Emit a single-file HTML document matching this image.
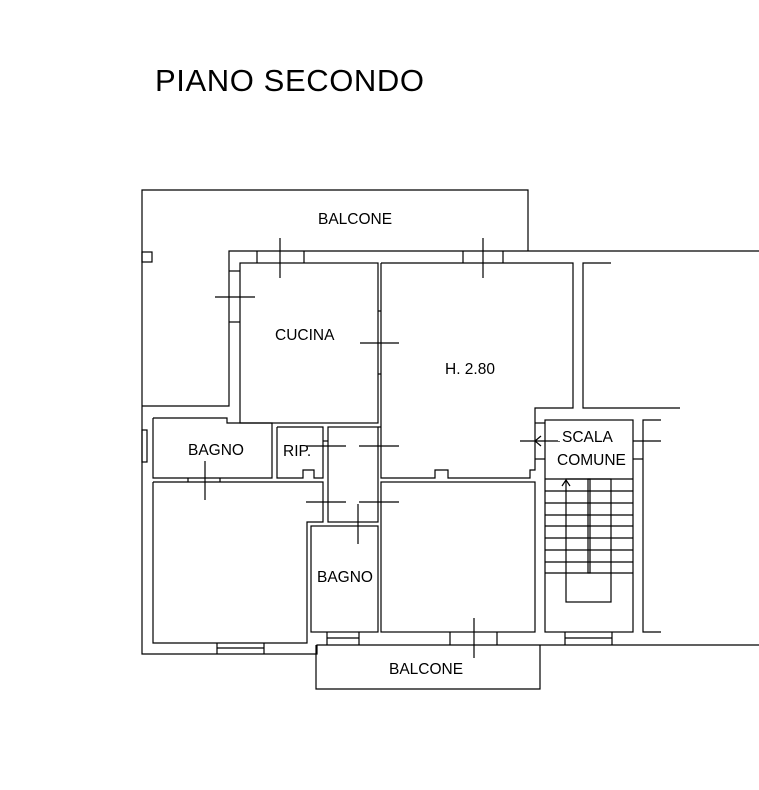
<!DOCTYPE html>
<html><head><meta charset="utf-8"><style>
html,body{margin:0;padding:0;background:#fff;width:759px;height:790px;overflow:hidden}
svg{display:block}
text{font-family:"Liberation Sans",sans-serif;fill:#000}
</style></head><body>
<svg width="759" height="790" viewBox="0 0 759 790" xmlns="http://www.w3.org/2000/svg">
<g stroke="#000" stroke-width="1.2" fill="none">
<polyline points="142,406 142,190 528,190 528,251"/>
<rect x="142" y="252" width="10" height="10"/>
<polyline points="759,251 229,251 229,406 142,406"/>
<line x1="229" y1="271" x2="240" y2="271"/><line x1="229" y1="322" x2="240" y2="322"/>
<line x1="215" y1="297" x2="255" y2="297"/>
<rect x="240" y="263" width="138" height="160"/>
<line x1="257" y1="251" x2="257" y2="263"/><line x1="304" y1="251" x2="304" y2="263"/>
<line x1="280" y1="238" x2="280" y2="278"/>
<line x1="378" y1="311" x2="381" y2="311"/><line x1="378" y1="374" x2="381" y2="374"/>
<line x1="360" y1="343" x2="399" y2="343"/>
<polyline points="381,263 573,263 573,408 535,408 535,470 530,470 530,478 448,478 448,470 435,470 435,478 381,478 381,263"/>
<line x1="463" y1="251" x2="463" y2="263"/><line x1="503" y1="251" x2="503" y2="263"/>
<line x1="483" y1="238" x2="483" y2="278"/>
<line x1="535" y1="423" x2="545" y2="423"/><line x1="535" y1="459" x2="545" y2="459"/>
<line x1="520" y1="441" x2="560" y2="441"/>
<polyline points="541,436 535,441 541,446"/>
<polyline points="611,263 583,263 583,408 680,408"/>
<polyline points="153,418 227,418 227,423 272,423 272,478 153,478 153,418"/>
<rect x="142" y="430" width="5" height="32"/>
<line x1="188" y1="478" x2="188" y2="482"/><line x1="220" y1="478" x2="220" y2="482"/>
<line x1="205" y1="461" x2="205" y2="500"/>
<polyline points="277,427 323,427 323,478 314,478 314,470 303,470 303,478 277,478 277,427"/>
<rect x="328" y="427" width="50" height="95"/>
<line x1="323" y1="441" x2="328" y2="441"/><line x1="378" y1="427" x2="381" y2="427"/>
<line x1="306" y1="446" x2="346" y2="446"/><line x1="359" y1="446" x2="399" y2="446"/>
<line x1="306" y1="502" x2="346" y2="502"/><line x1="359" y1="502" x2="399" y2="502"/>
<polyline points="153,482 323,482 323,522 307,522 307,643 153,643 153,482"/>
<rect x="311" y="526" width="67" height="106"/>
<line x1="358" y1="504" x2="358" y2="544"/>
<line x1="327" y1="632" x2="327" y2="645"/><line x1="359" y1="632" x2="359" y2="645"/><line x1="327" y1="638" x2="359" y2="638"/>
<rect x="381" y="482" width="154" height="150"/>
<line x1="450" y1="632" x2="450" y2="645"/><line x1="497" y1="632" x2="497" y2="645"/>
<line x1="474" y1="618" x2="474" y2="658"/>
<polyline points="142,406 142,654 317,654 317,645 759,645"/>
<line x1="217" y1="643" x2="217" y2="654"/><line x1="264" y1="643" x2="264" y2="654"/><line x1="217" y1="648" x2="264" y2="648"/>
<polyline points="316,645 316,689 540,689 540,645"/>
<rect x="545" y="420" width="88" height="212"/>
<polyline points="661,420 643,420 643,632 661,632"/>
<line x1="633" y1="441" x2="661" y2="441"/>
<line x1="633" y1="459" x2="643" y2="459"/>
<line x1="545" y1="479" x2="633" y2="479"/>
<line x1="545" y1="491" x2="633" y2="491"/>
<line x1="545" y1="503" x2="633" y2="503"/>
<line x1="545" y1="515" x2="633" y2="515"/>
<line x1="545" y1="526" x2="633" y2="526"/>
<line x1="545" y1="538" x2="633" y2="538"/>
<line x1="545" y1="550" x2="633" y2="550"/>
<line x1="545" y1="562" x2="633" y2="562"/>
<line x1="545" y1="573" x2="633" y2="573"/>
<rect x="566" y="479" width="45" height="123"/>
<rect x="588" y="479" width="2" height="94"/>
<polyline points="562,486 566,480 570,486"/>
<line x1="565" y1="632" x2="565" y2="645"/><line x1="612" y1="632" x2="612" y2="645"/><line x1="565" y1="638" x2="612" y2="638"/>
</g>
<g fill="#fff"><rect x="558" y="428" width="74" height="13"/><rect x="555" y="449" width="77" height="18"/></g>
<text x="155" y="91" font-size="31" letter-spacing="0.6">PIANO SECONDO</text>
<g font-size="15.5">
<text x="318" y="224">BALCONE</text>
<text x="275" y="340">CUCINA</text>
<text x="445" y="374">H. 2.80</text>
<text x="188" y="455">BAGNO</text>
<text x="283" y="456">RIP.</text>
<text x="317" y="582">BAGNO</text>
<text x="389" y="674">BALCONE</text>
<text x="562" y="442">SCALA</text>
<text x="557" y="465">COMUNE</text>
</g>
</svg>
</body></html>
